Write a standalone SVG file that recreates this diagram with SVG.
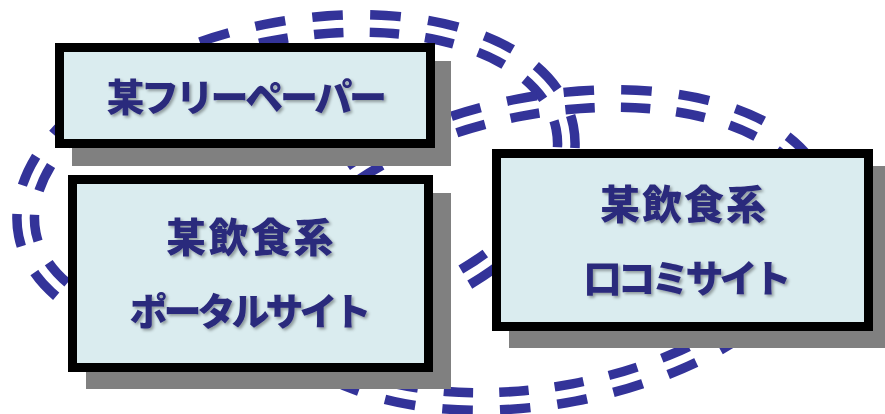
<svg xmlns="http://www.w3.org/2000/svg" width="885" height="414" viewBox="0 0 885 414">
<style>
.ring{fill:none;stroke:#333399;stroke-width:27;stroke-linecap:butt}
.gap{fill:none;stroke:#000;stroke-width:8}
.shadow{fill:#808080}
.box{fill:#DAECEF;stroke:#000;stroke-width:9}
.lbl{font-family:"Noto Sans CJK JP","Noto Sans CJK SC",sans-serif;font-weight:900;font-size:38px;fill:#2B2A7C}
.big{font-size:40px}
</style>
<defs>
<filter id="ts" x="-10%" y="-30%" width="120%" height="160%">
<feDropShadow dx="2" dy="2" stdDeviation="1.5" flood-color="#000" flood-opacity="0.35"/>
</filter>
<mask id="m1" maskUnits="userSpaceOnUse" x="0" y="0" width="885" height="414">
<rect x="0" y="0" width="885" height="414" fill="#fff"/>
<ellipse class="gap" cx="296" cy="181" rx="274" ry="151" transform="rotate(-11.3 296 181)"/>
</mask>
<mask id="m2" maskUnits="userSpaceOnUse" x="0" y="0" width="885" height="414">
<rect x="0" y="0" width="885" height="414" fill="#fff"/>
<ellipse class="gap" cx="547" cy="250" rx="277" ry="145" transform="rotate(-10.7 547 250)"/>
</mask>
</defs>
<rect width="885" height="414" fill="#fff"/>
<g id="connectors">
<g mask="url(#m1)">
<ellipse class="ring" cx="296" cy="181" rx="274" ry="151" transform="rotate(-11.3 296 181)" pathLength="1363" stroke-dasharray="30 26.79" stroke-dashoffset="9.4"/>
</g>
<g mask="url(#m2)">
<ellipse class="ring" cx="547" cy="250" rx="277" ry="145" transform="rotate(-10.7 547 250)" pathLength="1360" stroke-dasharray="30 26.667" stroke-dashoffset="11.67"/>
</g>
</g>
<g id="freepaper">
<rect class="shadow" x="72" y="61" width="379" height="105"/>
<rect class="box" x="59.5" y="47.5" width="371" height="96"/>
<text class="lbl" x="245" y="111" text-anchor="middle" letter-spacing="-3.3" filter="url(#ts)">某フリーペーパー</text>
</g>
<g id="portal">
<rect class="shadow" x="86" y="193" width="365" height="196"/>
<rect class="box" x="72.5" y="179.5" width="356" height="188"/>
<text class="lbl big" x="166" y="252" letter-spacing="2.5" filter="url(#ts)">某飲食系</text>
<text class="lbl" x="248.5" y="325" text-anchor="middle" letter-spacing="-4" filter="url(#ts)">ポータルサイト</text>
</g>
<g id="kuchikomi">
<rect class="shadow" x="509" y="166" width="381" height="182"/>
<rect class="box" x="496.5" y="153.5" width="372" height="173"/>
<text class="lbl big" x="600" y="219" letter-spacing="2" filter="url(#ts)">某飲食系</text>
<text class="lbl" x="685.5" y="292" text-anchor="middle" letter-spacing="-4" filter="url(#ts)">口コミサイト</text>
</g>
</svg>
